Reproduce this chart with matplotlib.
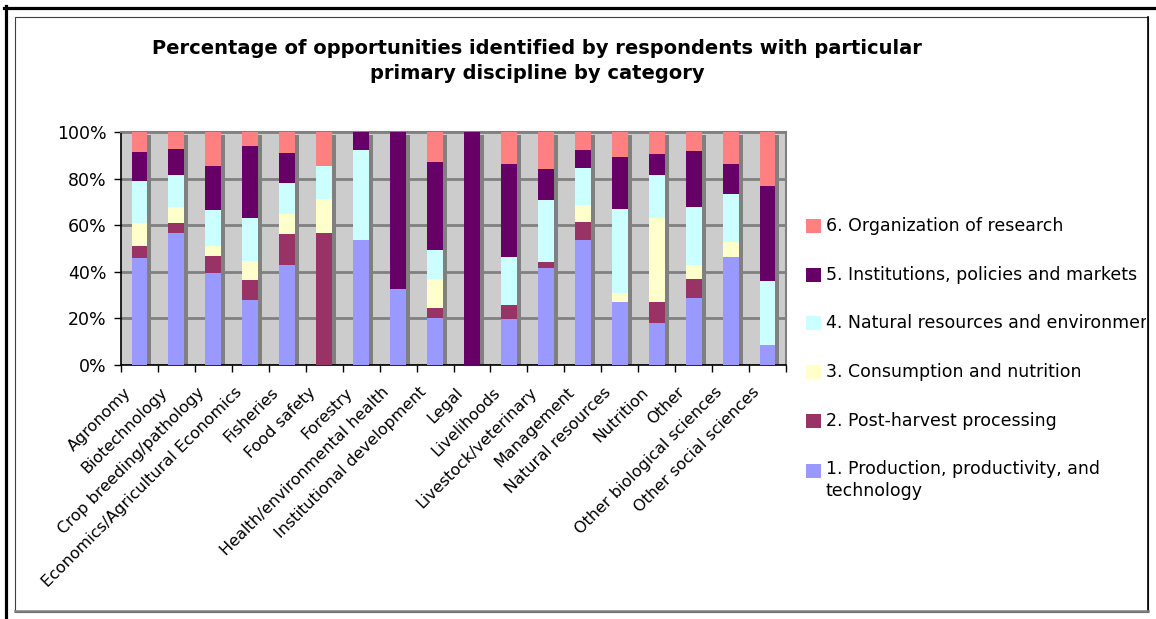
import numpy as np
import matplotlib.pyplot as plt
from matplotlib import transforms
from matplotlib.lines import Line2D
from matplotlib.patches import Rectangle
from matplotlib.transforms import Bbox, TransformedBbox, ScaledTranslation

plt.rcParams['font.family'] = ['DejaVu Sans']

disciplines = ["Agronomy", "Biotechnology", "Crop breeding/pathology",
               "Economics/Agricultural Economics", "Fisheries", "Food safety",
               "Forestry", "Health/environmental health", "Institutional development",
               "Legal", "Livelihoods", "Livestock/veterinary", "Management",
               "Natural resources", "Nutrition", "Other", "Other biological sciences",
               "Other social sciences"]

# share of opportunities (%) per category, one list per research category
production    = [46.1, 56.7, 39.6, 28.0, 43.0, 0.0, 53.7, 32.7, 20.3, 0.0, 19.9, 41.7, 53.7, 27.1, 18.1, 28.9, 46.4, 8.7]
post_harvest  = [5.0, 4.3, 7.0, 8.6, 13.3, 56.7, 0.0, 0.0, 4.3, 0.0, 6.0, 2.6, 7.7, 0.0, 9.0, 8.1, 0.0, 0.0]
consumption   = [9.9, 6.9, 4.3, 8.1, 8.7, 14.6, 0.0, 0.0, 12.4, 0.0, 0.0, 0.0, 7.3, 3.6, 36.0, 6.0, 6.5, 0.0]
natural_res   = [18.0, 13.7, 15.7, 18.6, 13.1, 14.1, 38.6, 0.0, 12.4, 0.0, 20.5, 26.6, 15.9, 36.3, 18.5, 24.9, 20.5, 27.4]
institutions  = [12.4, 11.1, 18.8, 30.7, 12.9, 0.0, 7.7, 67.3, 37.7, 100.0, 39.9, 13.2, 7.7, 22.3, 9.0, 24.0, 12.9, 40.8]
organization  = [8.6, 7.3, 14.6, 6.0, 9.0, 14.6, 0.0, 0.0, 12.9, 0.0, 13.7, 15.9, 7.7, 10.7, 9.4, 8.1, 13.7, 23.1]

series_labels = ["1. Production, productivity, and\ntechnology",
                 "2. Post-harvest processing",
                 "3. Consumption and nutrition",
                 "4. Natural resources and environment",
                 "5. Institutions, policies and markets",
                 "6. Organization of research"]
colors = ['#9999FF', '#993366', '#FFFFCC', '#CCFFFF', '#660066', '#FF8080']

W, H = 1156, 619


def fx(p):
    return p / W


def fy(p):
    return 1 - p / H


fig = plt.figure(figsize=(W / 100, H / 100), dpi=100)

ax = fig.add_axes([fx(121), fy(365), fx(786) - fx(121), fy(132) - fy(365)])
ax.set_facecolor('#CCCCCC')

series = np.array([production, post_harvest, consumption, natural_res, institutions, organization])
percent = series / series.sum(axis=0) * 100
x = np.arange(len(disciplines))
bw = 0.43

# drop shadow behind each column
shadow = transforms.offset_copy(ax.transData, fig=fig, x=4, y=-3, units='dots')
ax.bar(x, percent.sum(axis=0), width=bw, color='#808080', transform=shadow, zorder=2)

bottom = np.zeros(len(x))
for vals, c in zip(percent, colors):
    ax.bar(x, vals, bottom=bottom, width=bw, color=c, zorder=3)
    bottom += vals

ax.set_xlim(-0.5, len(x) - 0.5)
ax.set_ylim(0, 100)
ax.set_axisbelow(True)
ax.yaxis.grid(True, color='#808080', lw=2)

ax.set_yticks(range(0, 101, 20))
ax.set_yticklabels([f"{v}%" for v in range(0, 101, 20)], fontsize=12.5)
ax.tick_params(axis='y', length=5, width=1, pad=5.5)

ax.set_xticks(np.arange(-0.5, len(x), 1))
ax.set_xticklabels([])
ax.tick_params(axis='x', which='major', length=5, width=1)
ax.set_xticks(x, minor=True)
ax.set_xticklabels(disciplines, minor=True, rotation=45, ha='right', va='center',
                   rotation_mode='anchor', fontsize=11.5)
ax.tick_params(axis='x', which='minor', length=0, pad=18)
# rotated labels sit a little left of the column centre
nudge = ScaledTranslation(-11 / 100, 0, fig.dpi_scale_trans)
for lbl in ax.get_xticklabels(minor=True):
    lbl.set_transform(lbl.get_transform() + nudge)

for s in ['left', 'bottom']:
    ax.spines[s].set_color('black')
    ax.spines[s].set_linewidth(1.2)
for s in ['top', 'right']:
    ax.spines[s].set_color('#808080')
    ax.spines[s].set_linewidth(1.5)

fig.text(fx(537), fy(61),
         "Percentage of opportunities identified by respondents with particular\n"
         "primary discipline by category",
         ha='center', va='center', fontsize=14, fontweight='bold', linespacing=1.4)

# legend, top entry first
clip = TransformedBbox(Bbox.from_extents(0, 0, fx(1146), 1), fig.transFigure)
legend_y = [226, 275, 323, 372, 421, 471]
for yc, lab, c in zip(legend_y, series_labels[::-1], colors[::-1]):
    fig.add_artist(Rectangle((fx(806), fy(yc + 7)), fx(15), fy(yc - 7) - fy(yc + 7),
                             facecolor=c, edgecolor='none', transform=fig.transFigure))
    if "\n" in lab:
        t = fig.text(fx(826), fy(yc - 11), lab, ha='left', va='top', fontsize=12.5,
                     linespacing=1.25)
    else:
        t = fig.text(fx(826), fy(yc), lab, ha='left', va='center', fontsize=12.5)
    t.set_clip_box(clip)
    t.set_clip_on(True)

# chart frame
fig.add_artist(Rectangle((fx(15), fy(612)), fx(1148) - fx(15), fy(17) - fy(612),
                         fill=False, edgecolor='#404040', lw=0.8, transform=fig.transFigure))
fig.add_artist(Line2D([fx(1148), fx(1148)], [fy(17), fy(612)], color='black', lw=1.2,
                      transform=fig.transFigure))
fig.add_artist(Line2D([fx(15), fx(1148)], [fy(611), fy(611)], color='#808080', lw=1.8,
                      transform=fig.transFigure))
fig.add_artist(Line2D([fx(4), fx(W)], [fy(7.5), fy(7.5)], color='black', lw=2.3,
                      transform=fig.transFigure))
fig.add_artist(Line2D([fx(5.5), fx(5.5)], [fy(6), fy(H)], color='black', lw=2.3,
                      transform=fig.transFigure))

fig.savefig("out.png", dpi=100)
